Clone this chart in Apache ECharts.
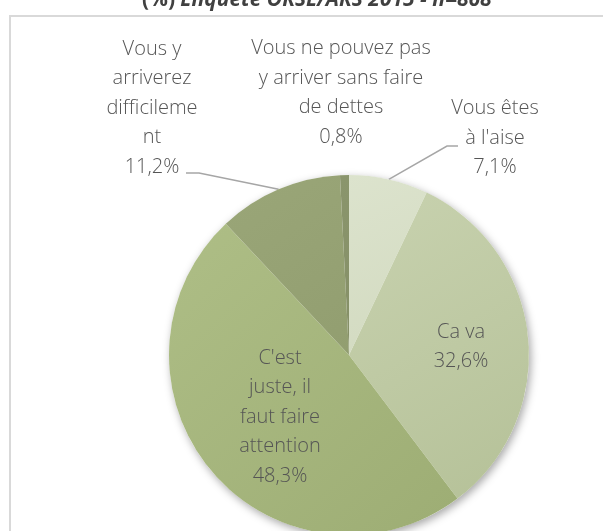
<!DOCTYPE html>
<html>
<head>
<meta charset="utf-8">
<script src="https://cdn.jsdelivr.net/npm/echarts@6/dist/echarts.min.js"></script>
<style>
html,body{margin:0;padding:0;background:#fff;}
#chart{width:603px;height:531px;}
</style>
</head>
<body>
<div id="chart"></div>
<script>
// ---- Data ----
var titleBold = "(%)";
var titleItalic = "Enquête ORSL/ARS 2015 - n=868";
var categories = [
  "Vous êtes\nà l'aise",
  "Ca va",
  "C'est\njuste, il\nfaut faire\nattention",
  "Vous y\narriverez\ndifficileme\nnt",
  "Vous ne pouvez pas\ny arriver sans faire\nde dettes"
];
var values = [7.1, 32.6, 48.3, 11.2, 0.8];

// ---- Styles ----
var sliceColors = [
  ['#dce3cd', '#d2dac0'],
  ['#c8d2af', '#b5c198'],
  ['#aebe86', '#9dad74'],
  ['#9aa678', '#929e70'],
  ['#8a956c', '#858f67']
];
var showLeader = [true, false, false, true, false];
var CX = 349, CY = 355, R = 180;
var labelAnchor = [
  {x: 495, y: 138, elbow: [447, 146], end: [458, 146]},
  {x: 461, y: 347},
  {x: 280, y: 417},
  {x: 152, y: 108, elbow: [199, 173], end: [186, 173]},
  {x: 341, y: 93}
];
var FONT = '"Open Sans"';

function fmt(v){ return v.toFixed(1).replace('.', ',') + '%'; }

var total = values.reduce(function(a,b){return a+b;}, 0);

var data = categories.map(function(c, i){
  return {
    name: c,
    value: values[i],
    itemStyle: {
      color: new echarts.graphic.LinearGradient(0, 0, 1, 1, [
        {offset: 0, color: sliceColors[i][0]},
        {offset: 1, color: sliceColors[i][1]}
      ])
    },
    labelLine: {show: showLeader[i]}
  };
});

var chart = echarts.init(document.getElementById('chart'), null, {renderer: 'canvas'});
chart.setOption({
  animation: false,
  backgroundColor: '#ffffff',
  title: {
    left: 137,
    top: -15,
    text: '{b|' + titleBold + '} {i|' + titleItalic + '}',
    textStyle: {
      rich: {
        b: {fontFamily: FONT, fontWeight: 'bold', fontSize: 21, color: '#404040'},
        i: {fontFamily: FONT, fontStyle: 'italic', fontSize: 21, color: '#404040'}
      }
    }
  },
  graphic: [{
    type: 'rect',
    shape: {x: 10, y: 16, width: 700, height: 700},
    style: {fill: 'none', stroke: '#d9d9d9', lineWidth: 2},
    z: 0
  }],
  series: [
    {
      type: 'pie',
      silent: true,
      center: [CX, CY],
      radius: R,
      label: {show: false},
      labelLine: {show: false},
      data: [{value: total, itemStyle: {color: '#ffffff', shadowBlur: 8, shadowOffsetX: 2, shadowOffsetY: 3, shadowColor: 'rgba(0,0,0,0.35)'}}],
      z: 1
    },
    {
      type: 'pie',
      center: [CX, CY],
      radius: R,
      startAngle: 90,
      clockwise: true,
      avoidLabelOverlap: false,
      itemStyle: {borderWidth: 0},
      label: {
        show: true,
        position: 'outside',
        formatter: function(p){ return p.name + '\n' + fmt(p.value); },
        fontFamily: FONT,
        fontWeight: 300,
        fontSize: 20,
        lineHeight: 29.5,
        color: '#555555',
        align: 'center'
      },
      labelLine: {
        show: false,
        lineStyle: {color: '#a6a6a6', width: 1.5}
      },
      labelLayout: function(params){
        var a = labelAnchor[params.dataIndex];
        var res = {x: a.x, y: a.y, align: 'center', verticalAlign: 'middle'};
        if (a.elbow && params.labelLinePoints) {
          res.labelLinePoints = [params.labelLinePoints[0], a.elbow, a.end];
        }
        return res;
      },
      data: data,
      z: 2
    }
  ]
});
</script>
</body>
</html>
